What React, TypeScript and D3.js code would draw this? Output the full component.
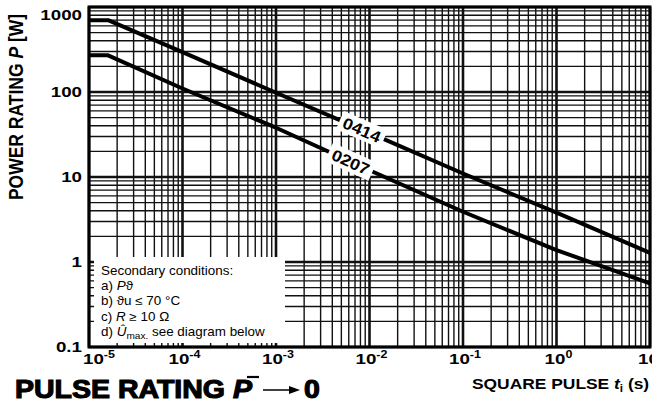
import * as d3 from 'd3';

// pulse duration (s) and permissible pulse power (W)
const pulseT = [1e-5, 1.6e-5, 1e-4, 1e-3, 1e-2, 1e-1, 1, 10];
const p0414 = [700, 700, 295, 98, 33, 11, 3.8, 1.28];
const p0207 = [270, 270, 110, 38, 12, 3.9, 1.38, 0.56];
const seriesNames = ['0414', '0207'];
const labelT = [8.3e-3, 6.3e-3];

const xDecades = [1e-5, 1e-4, 1e-3, 1e-2, 1e-1, 1, 10];
const xExponents = ['-5', '-4', '-3', '-2', '-1', '0', '1'];
const yDecades = [0.1, 1, 10, 100, 1000];
const yTickLabels = ['0.1', '1', '10', '100', '1000'];

const FONT = "'Liberation Sans', Arial, Helvetica, sans-serif";
const W = 652;
const H = 406;
const SX = 1.25; // the sheet is stretched horizontally

const isDecade = (v: number) => Math.abs(Math.log10(v) - Math.round(Math.log10(v))) < 1e-6;

export default function App() {
  const margin = { top: 7, right: 2, bottom: 59, left: 89 };
  const x = d3.scaleLog().domain([1e-5, 10]).range([margin.left, W - margin.right]);
  const y = d3.scaleLog().domain([0.1, 1000]).range([H - margin.bottom, margin.top]);
  const [x0, x1] = x.range();
  const [y0, y1] = y.range();

  const line = d3.line<[number, number]>()
    .x(d => x(d[0]))
    .y(d => y(d[1]));

  const series = [p0414, p0207].map(vals => pulseT.map((t, i) => [t, vals[i]] as [number, number]));

  const labels = series.map((pts, i) => {
    const f = d3.scaleLinear()
      .domain(pts.map(d => Math.log10(d[0])))
      .range(pts.map(d => Math.log10(d[1])));
    const at = (t: number) => [x(t), y(Math.pow(10, f(Math.log10(t))))];
    const [cx, cy] = at(labelT[i]);
    const [ax, ay] = at(labelT[i] / 1.4);
    const [bx, by] = at(labelT[i] * 1.4);
    const ang = (Math.atan2(by - ay, bx - ax) * 180) / Math.PI;
    return { cx, cy, ang, name: seriesNames[i] };
  });

  return (
    <svg width={W} height={H} style={{ display: 'block', background: '#fff' }}>
      <style>{`body{margin:0}`}</style>

      {/* grid */}
      {x.ticks().map((v, i) => (
        <line key={'gx' + i} x1={x(v)} x2={x(v)} y1={y1} y2={y0}
          stroke="#111" strokeWidth={isDecade(v) ? 2.6 : 1.4} />
      ))}
      {y.ticks().map((v, i) => (
        <line key={'gy' + i} x1={x0} x2={x1} y1={y(v)} y2={y(v)}
          stroke="#111" strokeWidth={isDecade(v) ? 2.6 : 1.4} />
      ))}

      {/* curves */}
      {series.map((pts, i) => (
        <path key={'s' + i} d={line(pts) || ''} fill="none" stroke="#000"
          strokeWidth={4} strokeLinejoin="round" />
      ))}

      {/* curve labels */}
      {labels.map(l => (
        <g key={l.name} transform={`translate(${l.cx},${l.cy}) rotate(${l.ang})`}>
          <rect x={-24} y={-10} width={48} height={20} fill="#fff" />
          <text x={0} y={6} textAnchor="middle" fontFamily={FONT} fontWeight="bold"
            fontSize={16} transform={`scale(1.12,1)`}>{l.name}</text>
        </g>
      ))}

      {/* secondary conditions box */}
      <rect x={94} y={257} width={191} height={86} fill="#fff" />
      <g fontFamily={FONT} fontSize={12} fill="#000" transform={`translate(101,0) scale(1.12,1)`}>
        <text x={0} y={275}>Secondary conditions:</text>
        <text x={0} y={290.5}>a) <tspan fontStyle="italic">P</tspan>ϑ</text>
        <text x={0} y={305.5}>b) ϑu ≤ 70 °C</text>
        <text x={0} y={321}>c) <tspan fontStyle="italic">R</tspan> ≥ 10 Ω</text>
        <text x={0} y={336.5}>d) <tspan fontStyle="italic">Û</tspan><tspan fontSize={9} dy={3}>max.</tspan><tspan dy={-3}> see diagram below</tspan></text>
      </g>

      {/* frame */}
      <rect x={x0} y={y1} width={x1 - x0} height={y0 - y1} fill="none" stroke="#000" strokeWidth={3} />

      {/* y tick labels */}
      {yDecades.map((v, i) => (
        <text key={'yt' + i} transform={`translate(82,${Math.max(y(v) + 5, 20)}) scale(${SX},1)`}
          textAnchor="end" fontFamily={FONT} fontWeight="bold" fontSize={15}>{yTickLabels[i]}</text>
      ))}

      {/* x tick labels */}
      {xDecades.map((v, i) => (
        <text key={'xt' + i}
          transform={`translate(${i === 0 ? 83 : x(v) + 2},364) scale(${SX},1)`}
          textAnchor={i === 0 ? 'start' : 'middle'} fontFamily={FONT} fontWeight="bold" fontSize={15}>
          10<tspan fontSize={10} dy={-6}>{xExponents[i]}</tspan>
        </text>
      ))}

      {/* y axis title */}
      <text transform={`translate(23,107) scale(1.15,1) rotate(-90)`} textAnchor="middle"
        fontFamily={FONT} fontWeight="bold" fontSize={17.5}>
        POWER RATING  <tspan fontStyle="italic">P</tspan> [W]
      </text>

      {/* x axis title */}
      <text transform={`translate(472,389) scale(1.16,1)`} fontFamily={FONT} fontWeight="bold" fontSize={15}>
        SQUARE PULSE  <tspan fontStyle="italic">t</tspan><tspan fontSize={10} dy={3}>i</tspan><tspan dy={-3}> (s)</tspan>
      </text>

      {/* headline */}
      <g transform={`translate(15,398) scale(1.14,1)`} fontFamily={FONT} fontWeight="bold" fontSize={25}
        stroke="#000" strokeWidth={1.1}>
        <text x={0} y={0}>PULSE RATING <tspan fontStyle="italic">P</tspan></text>
      </g>
      <line x1={247} x2={259} y1={377} y2={377} stroke="#000" strokeWidth={2.2} />
      <line x1={263} x2={296} y1={390} y2={390} stroke="#000" strokeWidth={1.6} />
      <path d="M289,386 L300,390 L289,394 Z" fill="#000" />
      <text transform={`translate(304,398) scale(1.14,1)`} fontFamily={FONT} fontWeight="bold" fontSize={25}
        stroke="#000" strokeWidth={1.1}>0</text>
    </svg>
  );
}
